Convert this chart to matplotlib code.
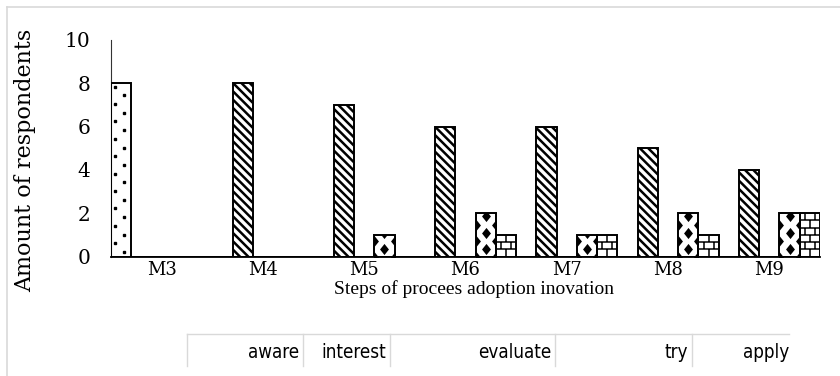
import numpy as np
import matplotlib
matplotlib.use("Agg")
import matplotlib.pyplot as plt
from matplotlib import font_manager as fm
from matplotlib.lines import Line2D
from matplotlib.path import Path
from matplotlib.patches import Rectangle

# ---- data -------------------------------------------------------------
groups = ["M3", "M4", "M5", "M6", "M7", "M8", "M9"]
series = ["aware", "interest", "evaluate", "try", "apply"]
aware = [8, 0, 0, 0, 0, 0, 0]
interest = [0, 8, 7, 6, 6, 5, 4]
evaluate = [0, 0, 0, 0, 0, 0, 0]
try_ = [0, 0, 1, 2, 1, 2, 2]
apply_ = [0, 0, 0, 1, 1, 1, 2]
yticks = [0, 2, 4, 6, 8, 10]
xlabel = "Steps of procees adoption inovation"
ylabel = "Amount of respondents"

values = [aware, interest, evaluate, try_, apply_]

# ---- fonts -------------------------------------------------------------
entries = fm.fontManager.ttflist
names = {f.name for f in entries}
serif = "DejaVu Serif"
title_serif = "Liberation Serif"
if "Liberation Sans Narrow" in names:
    legend_font = dict(family="Liberation Sans Narrow", fontsize=15)
elif any(f.name == "DejaVu Sans" and f.stretch == "condensed" for f in entries):
    legend_font = dict(family="DejaVu Sans", fontstretch="condensed", fontsize=13.5)
else:
    legend_font = dict(family="Liberation Sans", fontsize=13)

W, H, DPI = 840, 376, 100
fig = plt.figure(figsize=(W / DPI, H / DPI), dpi=DPI)
fig.patch.set_facecolor("white")


def fx(p):
    return p / W


def fy(p):
    return 1 - p / H


ax = fig.add_axes([fx(111), fy(256.5), 709 / W, 216.5 / H])
ax.set_xlim(-0.5, len(groups) - 0.5)
ax.set_ylim(0, 10)

x = np.arange(len(groups))
n = len(series)
bw = 1.0 / n
offsets = (np.arange(n) - (n - 1) / 2) * bw
hatches = [None, "\\\\\\\\", None, None, None]
plt.rcParams["hatch.linewidth"] = 1.8

containers = []
for i, (name, vals) in enumerate(zip(series, values)):
    c = ax.bar(x + offsets[i], vals, width=bw, facecolor="white", edgecolor="black",
               linewidth=0, hatch=hatches[i], zorder=2, label=name)
    containers.append(c)

# pixel scale of the data axes
p0 = ax.transData.transform((0, 0))
p1 = ax.transData.transform((1, 1))
ppx = p1[0] - p0[0]
ppy = p1[1] - p0[1]


def clip_plot(rect, xs, ys, **kw):
    ln, = ax.plot(xs, ys, zorder=2.5, **kw)
    ln.set_clip_path(rect)
    return ln


# dotted fill (aware)
for r in containers[0].patches:
    h_px = r.get_height() * ppy
    if h_px <= 0:
        continue
    w_px = r.get_width() * ppx
    ks = np.arange(0, int(h_px / 8.7) + 1)
    dx = np.where(ks % 2 == 0, 0.62 * w_px, 0.18 * w_px)
    xs = r.get_x() + dx / ppx
    ys = r.get_y() + (ks * 8.7 + 4.5) / ppy
    clip_plot(r, xs, ys, ls="none", marker="s", ms=1.5, mfc="black", mec="black")

# diamond fill (try)
dia = Path([(0, 1), (0.8, 0), (0, -1), (-0.8, 0), (0, 1)],
           [Path.MOVETO, Path.LINETO, Path.LINETO, Path.LINETO, Path.CLOSEPOLY])
for r in containers[3].patches:
    h_px = r.get_height() * ppy
    if h_px <= 0:
        continue
    w_px = r.get_width() * ppx
    kc = np.arange(0, int(h_px / 16) + 2)
    xs = np.full(len(kc), r.get_x() + 0.5 * w_px / ppx)
    ys = r.get_y() + (kc * 16 + 8) / ppy
    clip_plot(r, xs, ys, ls="none", marker=dia, ms=8, mfc="black", mec="black", mew=0)
    for side in (0.0, 1.0):
        xs = np.full(len(kc), r.get_x() + side * w_px / ppx)
        ys = r.get_y() + (kc * 16) / ppy
        clip_plot(r, xs, ys, ls="none", marker=dia, ms=8, mfc="black", mec="black", mew=0)

# brick fill (apply)
for r in containers[4].patches:
    h_px = r.get_height() * ppy
    if h_px <= 0:
        continue
    row = ppy / 3
    nrows = int(round(h_px / row))
    segx, segy = [], []
    for k in range(1, nrows):
        yy = r.get_y() + k * row / ppy
        segx += [r.get_x(), r.get_x() + r.get_width(), np.nan]
        segy += [yy, yy, np.nan]
    for k in range(nrows):
        y0 = r.get_y() + k * row / ppy
        y1 = r.get_y() + (k + 1) * row / ppy
        cols = [0.5] if k % 2 == 0 else [0.25, 0.75]
        for cx in cols:
            xx = r.get_x() + cx * r.get_width()
            segx += [xx, xx, np.nan]
            segy += [y0, y1, np.nan]
    clip_plot(r, segx, segy, color="black", lw=1.1, solid_capstyle="butt")

# outlines on top of the fills
for c in containers:
    for r in c.patches:
        ax.add_patch(Rectangle((r.get_x(), r.get_y()), r.get_width(), r.get_height(),
                               fill=False, edgecolor="black", linewidth=1.4, zorder=3))

# ---- axes styling -------------------------------------------------------
for s in ("top", "right"):
    ax.spines[s].set_visible(False)
ax.spines["left"].set_linewidth(0.8)
ax.spines["left"].set_color("#333333")
ax.spines["bottom"].set_linewidth(1.3)
ax.spines["bottom"].set_color("black")
ax.spines["bottom"].set_zorder(4)

ax.set_yticks(yticks)
ax.set_yticklabels([str(t) for t in yticks], family=serif, fontsize=14.5)
ax.set_xticks(x)
ax.set_xticklabels(groups, family=serif, fontsize=13)
ax.tick_params(axis="y", length=0, pad=15)
ax.tick_params(axis="x", length=0, pad=3)

fig.text(fx(25), fy(160), ylabel, rotation=90, ha="center", va="center",
         family=serif, fontsize=16)
fig.text(fx(474), fy(289), xlabel, ha="center", va="center",
         family=title_serif, fontsize=14)

# ---- chart frame --------------------------------------------------------
frame = "#d9d9d9"
fig.add_artist(Line2D([fx(7), 1], [fy(7), fy(7)], transform=fig.transFigure,
                      color=frame, lw=1.2))
fig.add_artist(Line2D([fx(7), fx(7)], [0, fy(7)], transform=fig.transFigure,
                      color=frame, lw=1.2))

# ---- legend row ---------------------------------------------------------
sep = [187, 303, 390, 555, 692]
right_edge = 789
fig.add_artist(Line2D([fx(sep[0]), fx(right_edge)], [fy(334), fy(334)],
                      transform=fig.transFigure, color=frame, lw=1))
for sx in sep:
    fig.add_artist(Line2D([fx(sx), fx(sx)], [fy(334), fy(366)],
                          transform=fig.transFigure, color=frame, lw=1))
ends = [s - 4 for s in sep[1:]] + [right_edge]
for name, ex in zip(series, ends):
    fig.text(fx(ex), fy(352), name, ha="right", va="center", color="black", **legend_font)

fig.savefig("out.png", dpi=DPI, facecolor="white")
